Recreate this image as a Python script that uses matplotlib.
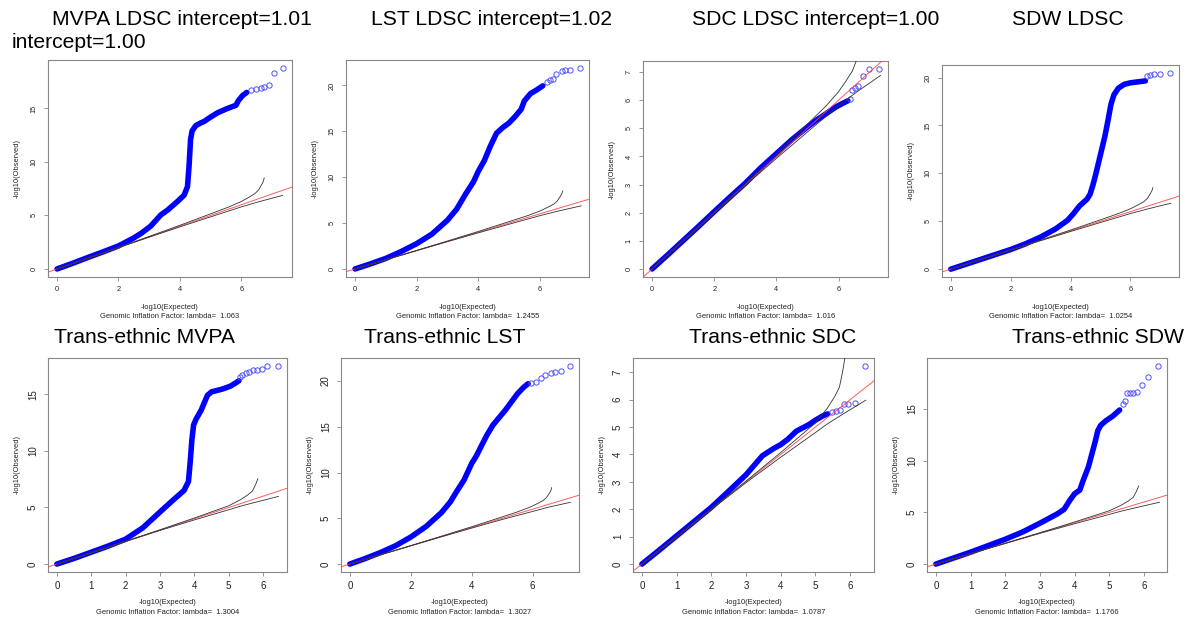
import numpy as np
import matplotlib.pyplot as plt

plt.rcParams['font.family'] = ['Liberation Sans', 'DejaVu Sans']

W, H = 1190, 622

# ---- QQ data: dense part of each curve (drawn as a thick band) and the sparse top hits ----
mvpa_ldsc_x = [0, 0.5, 1.0, 1.5, 2.0, 2.5, 2.75, 3.05, 3.38, 3.6, 3.92, 4.14, 4.25, 4.3, 4.35, 4.4, 4.52, 4.68, 4.8, 4.95, 5.23, 5.55, 5.83, 5.9, 6.04, 6.18]
mvpa_ldsc_y = [0, 0.52, 1.07, 1.6, 2.15, 2.9, 3.35, 4.0, 5.05, 5.5, 6.3, 6.9, 7.7, 9.6, 12.1, 12.9, 13.4, 13.65, 13.8, 14.1, 14.6, 15.0, 15.3, 15.7, 16.2, 16.5]
mvpa_ldsc_tx = [6.32, 6.48, 6.64, 6.75, 6.89, 7.06, 7.36]
mvpa_ldsc_ty = [16.72, 16.78, 16.94, 17.03, 17.2, 18.28, 18.78]

lst_ldsc_x = [0, 0.5, 1.0, 1.5, 2.0, 2.5, 3.0, 3.3, 3.6, 3.85, 4.0, 4.2, 4.4, 4.6, 4.8, 5.0, 5.2, 5.4, 5.5, 5.7, 5.9, 6.1]
lst_ldsc_y = [0, 0.55, 1.15, 1.9, 2.75, 3.8, 5.3, 6.5, 8.2, 9.5, 10.6, 11.8, 13.4, 14.8, 15.4, 15.9, 16.6, 17.4, 18.3, 19.1, 19.5, 19.95]
lst_ldsc_tx = [6.23, 6.33, 6.44, 6.53, 6.71, 6.82, 7.0, 7.31]
lst_ldsc_ty = [20.36, 20.55, 20.7, 21.27, 21.53, 21.64, 21.64, 21.89]

sdc_ldsc_x = [0, 0.5, 1.0, 1.5, 2.0, 2.5, 3.0, 3.5, 4.0, 4.5, 5.0, 5.3, 5.6, 5.9, 6.1, 6.3]
sdc_ldsc_y = [0, 0.5, 1.01, 1.52, 2.04, 2.55, 3.05, 3.6, 4.1, 4.6, 5.05, 5.3, 5.52, 5.75, 5.87, 5.98]
sdc_ldsc_tx = [6.37, 6.42, 6.52, 6.62, 6.78, 6.98, 7.3]
sdc_ldsc_ty = [6.06, 6.38, 6.45, 6.5, 6.86, 7.11, 7.11]

sdw_ldsc_x = [0, 1.0, 2.0, 2.5, 3.0, 3.5, 3.9, 4.1, 4.3, 4.55, 4.65, 4.75, 4.85, 4.95, 5.05, 5.15, 5.25, 5.35, 5.45, 5.6, 5.8, 6.0, 6.25, 6.5]
sdw_ldsc_y = [0, 1.02, 2.05, 2.65, 3.35, 4.2, 5.1, 5.8, 6.6, 7.3, 7.8, 8.8, 10.0, 11.3, 12.6, 13.9, 15.5, 17.2, 18.2, 18.9, 19.3, 19.45, 19.55, 19.65]
sdw_ldsc_tx = [6.56, 6.67, 6.78, 7.0, 7.33]
sdw_ldsc_ty = [20.14, 20.24, 20.35, 20.42, 20.49]

mvpa_trans_x = [0, 0.5, 1.0, 1.5, 2.0, 2.5, 3.0, 3.4, 3.7, 3.83, 3.88, 3.93, 3.98, 4.05, 4.2, 4.38, 4.5, 4.8, 5.05, 5.2, 5.3]
mvpa_trans_y = [0, 0.5, 1.05, 1.6, 2.2, 3.2, 4.6, 5.7, 6.5, 7.3, 9.0, 11.0, 12.3, 12.8, 13.6, 14.9, 15.22, 15.45, 15.72, 16.0, 16.2]
mvpa_trans_tx = [5.33, 5.4, 5.5, 5.59, 5.72, 5.82, 5.96, 6.13, 6.44]
mvpa_trans_ty = [16.57, 16.72, 16.86, 17.0, 17.16, 17.16, 17.22, 17.51, 17.51]

lst_trans_x = [0, 0.5, 1.0, 1.5, 2.0, 2.5, 3.0, 3.3, 3.5, 3.75, 4.0, 4.15, 4.3, 4.5, 4.7, 4.9, 5.1, 5.3, 5.5, 5.7, 5.85]
lst_trans_y = [0, 0.6, 1.25, 2.0, 2.95, 4.1, 5.6, 6.8, 7.9, 9.2, 11.0, 11.8, 12.8, 14.1, 15.2, 16.0, 16.8, 17.7, 18.6, 19.3, 19.7]
lst_trans_tx = [5.95, 6.11, 6.27, 6.41, 6.6, 6.73, 6.92, 7.23]
lst_trans_ty = [19.82, 19.93, 20.3, 20.66, 20.9, 21.0, 21.09, 21.64]

sdc_trans_x = [0, 0.5, 1.0, 1.5, 2.0, 2.5, 3.0, 3.47, 3.8, 4.0, 4.2, 4.45, 4.8, 5.0, 5.2, 5.35]
sdc_trans_y = [0, 0.51, 1.03, 1.55, 2.07, 2.66, 3.26, 3.95, 4.22, 4.36, 4.55, 4.85, 5.08, 5.25, 5.4, 5.48]
sdc_trans_tx = [5.49, 5.6, 5.72, 5.82, 5.94, 6.13, 6.43]
sdc_trans_ty = [5.54, 5.58, 5.64, 5.84, 5.83, 5.87, 7.23]

sdw_trans_x = [0, 1.0, 2.0, 2.5, 3.0, 3.5, 3.7, 3.85, 4.0, 4.15, 4.25, 4.4, 4.52, 4.6, 4.67, 4.75, 4.9, 5.1, 5.3]
sdw_trans_y = [0, 1.15, 2.4, 3.1, 3.95, 4.85, 5.3, 6.1, 6.8, 7.15, 8.1, 9.4, 10.9, 11.9, 12.9, 13.4, 13.85, 14.3, 14.9]
sdw_trans_tx = [5.4, 5.45, 5.5, 5.6, 5.69, 5.81, 5.95, 6.12, 6.41]
sdw_trans_ty = [15.48, 15.8, 16.52, 16.58, 16.58, 16.68, 17.32, 18.06, 19.16]

# ---- 95% bands around the null line ----
ci_big_up_x = [0, 2, 3, 4, 5, 5.6, 6.0, 6.25, 6.45, 6.57, 6.66, 6.72, 6.75]
ci_big_up_y = [0, 2.02, 3.04, 4.08, 5.15, 5.8, 6.3, 6.7, 7.05, 7.4, 7.85, 8.2, 8.5]
ci_big_lo_x = [0, 2, 3, 4, 5, 6, 6.57, 7.35]
ci_big_lo_y = [0, 1.99, 2.97, 3.93, 4.87, 5.8, 6.28, 6.88]

ci_lst_up_x = [0, 2, 3, 4, 5, 5.5, 5.9, 6.15, 6.35, 6.46, 6.55, 6.6, 6.62]
ci_lst_up_y = [0, 2.02, 3.04, 4.08, 5.15, 5.7, 6.2, 6.6, 6.95, 7.3, 7.75, 8.05, 8.34]
ci_lst_lo_x = [0, 2, 3, 4, 5, 6, 6.5, 7.23]
ci_lst_lo_y = [0, 1.99, 2.97, 3.93, 4.87, 5.75, 6.2, 6.74]

ci_small_up_x = [0, 2, 3, 4, 5, 5.35, 5.55, 5.69, 5.78, 5.82, 5.85]
ci_small_up_y = [0, 2.02, 3.03, 4.07, 5.15, 5.7, 6.1, 6.45, 7.0, 7.3, 7.55]
ci_small_lo_x = [0, 2, 3, 4, 5, 5.35, 5.7, 6.45]
ci_small_lo_y = [0, 1.99, 2.97, 3.9, 4.8, 5.12, 5.4, 5.98]

titles_top = ["MVPA LDSC intercept=1.01", "LST LDSC intercept=1.02",
              "SDC LDSC intercept=1.00", "SDW LDSC"]
titles_bottom = ["Trans-ethnic MVPA", "Trans-ethnic LST",
                 "Trans-ethnic SDC", "Trans-ethnic SDW"]
lambdas = ["1.063", "1.2455", "1.016", "1.0254", "1.3004", "1.3027", "1.0787", "1.1766"]

fig = plt.figure(figsize=(W / 100, H / 100), dpi=100)


def ftext(x, y, s, **kw):
    return fig.text(x / W, 1 - y / H, s, **kw)


def qq_panel(box, bx, by, tx, ty, ci, xstep, ystep, fs, lam):
    l, t, r, b = box
    ax = fig.add_axes([l / W, 1 - b / H, (r - l) / W, (b - t) / H])
    allx = np.concatenate([bx, tx])
    ally = np.concatenate([by, ty])
    dx = 0.04 * (allx.max() - allx.min())
    dy = 0.04 * (ally.max() - ally.min())
    ax.set_xlim(allx.min() - dx, allx.max() + dx)
    ax.set_ylim(ally.min() - dy, ally.max() + dy)

    ax.plot(bx, by, color='#0000ff', lw=4.0, solid_capstyle='round',
            solid_joinstyle='round', zorder=2)
    ax.plot(tx, ty, 'o', mfc='none', mec='#5050ff', ms=3.8, mew=0.7, zorder=3)
    ax.axline((0, 0), slope=1, color='#ff4040', lw=0.7, alpha=0.85, zorder=4)
    ux, uy, lx, ly = ci
    ax.plot(ux, uy, color='#333333', lw=0.6, zorder=4)
    ax.plot(lx, ly, color='#333333', lw=0.6, zorder=4)

    ax.set_xticks(np.arange(0, allx.max() + 0.01, xstep))
    ax.set_yticks(np.arange(0, ally.max() + 0.01, ystep))
    ax.tick_params(direction='out', length=3, width=0.6, color='#888888',
                   labelsize=fs, labelcolor='#222222', pad=3.6)
    ax.tick_params(axis='y', labelrotation=90, pad=4.3)
    for lab in ax.get_yticklabels():
        lab.set_va('center')
    for sp in ax.spines.values():
        sp.set_color('#888888')
        sp.set_linewidth(0.8)

    cx = (l + r) / 2
    ftext(cx, b + 30, "-log10(Expected)", fontsize=5.4, ha='center', va='center', color='#222222')
    ftext(cx, b + 40, "Genomic Inflation Factor: lambda=  " + lam, fontsize=5.4,
          ha='center', va='center', color='#222222')
    ftext(l - 31, (t + b) / 2, "-log10(Observed)", fontsize=5.4, rotation=90,
          ha='center', va='center', color='#222222')
    return ax


ci_big = (ci_big_up_x, ci_big_up_y, ci_big_lo_x, ci_big_lo_y)
ci_lst = (ci_lst_up_x, ci_lst_up_y, ci_lst_lo_x, ci_lst_lo_y)
ci_small = (ci_small_up_x, ci_small_up_y, ci_small_lo_x, ci_small_lo_y)

qq_panel((48, 60, 292, 277), mvpa_ldsc_x, mvpa_ldsc_y, mvpa_ldsc_tx, mvpa_ldsc_ty, ci_big, 2, 5, 5.3, lambdas[0])
qq_panel((346, 60, 589, 277), lst_ldsc_x, lst_ldsc_y, lst_ldsc_tx, lst_ldsc_ty, ci_big, 2, 5, 5.3, lambdas[1])
qq_panel((643, 61, 888, 277), sdc_ldsc_x, sdc_ldsc_y, sdc_ldsc_tx, sdc_ldsc_ty, ci_big, 2, 1, 5.3, lambdas[2])
qq_panel((942, 65, 1179, 277), sdw_ldsc_x, sdw_ldsc_y, sdw_ldsc_tx, sdw_ldsc_ty, ci_big, 2, 5, 5.3, lambdas[3])

qq_panel((48, 358, 287, 572), mvpa_trans_x, mvpa_trans_y, mvpa_trans_tx, mvpa_trans_ty, ci_small, 1, 5, 7, lambdas[4])
qq_panel((341, 358, 579, 572), lst_trans_x, lst_trans_y, lst_trans_tx, lst_trans_ty, ci_lst, 2, 5, 7, lambdas[5])
qq_panel((633, 358, 874, 572), sdc_trans_x, sdc_trans_y, sdc_trans_tx, sdc_trans_ty, ci_small, 1, 1, 7, lambdas[6])
qq_panel((927, 358, 1167, 572), sdw_trans_x, sdw_trans_y, sdw_trans_tx, sdw_trans_ty, ci_small, 1, 5, 7, lambdas[7])

# panel headings
for x, s in zip([52, 371, 692, 1012], titles_top):
    ftext(x, 25, s, fontsize=15.2, ha='left', va='baseline')
ftext(12, 48, "intercept=1.00", fontsize=15.2, ha='left', va='baseline')
for x, s in zip([54, 364, 689, 1012], titles_bottom):
    ftext(x, 343, s, fontsize=15.2, ha='left', va='baseline')

fig.savefig("out.png", dpi=100)
